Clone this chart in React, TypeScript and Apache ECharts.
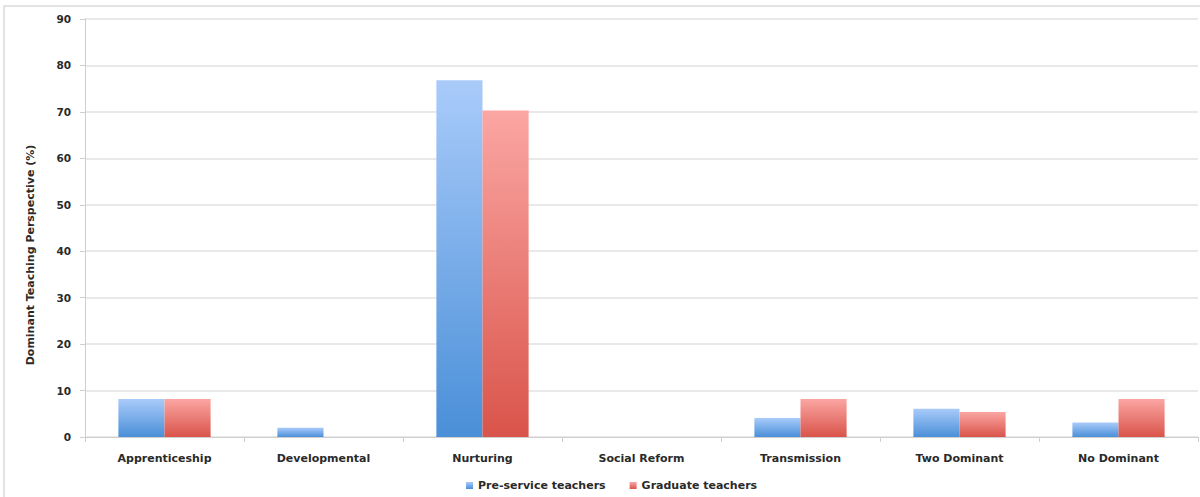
import React, { useEffect, useRef } from "react";
import * as echarts from "echarts";

const categories = [
  "Apprenticeship",
  "Developmental",
  "Nurturing",
  "Social Reform",
  "Transmission",
  "Two Dominant",
  "No Dominant",
];
const preService = [8.2, 2.0, 76.8, 0, 4.1, 6.1, 3.1];
const graduate = [8.2, 0, 70.3, 0, 8.2, 5.4, 8.2];
const seriesNames = ["Pre-service teachers", "Graduate teachers"];
const yAxisTitle = "Dominant Teaching Perspective (%)";
const yTicks = { min: 0, max: 90, interval: 10 };

const FONT = "'DejaVu Sans', 'Liberation Sans', sans-serif";
const TEXT = "#2a2a2a";

const blueFill = new echarts.graphic.LinearGradient(0, 0, 0, 1, [
  { offset: 0, color: "#a9cbfa" },
  { offset: 1, color: "#4a8fd8" },
]);
const redFill = new echarts.graphic.LinearGradient(0, 0, 0, 1, [
  { offset: 0, color: "#fba6a3" },
  { offset: 1, color: "#d9544a" },
]);

export default function App() {
  const ref = useRef<HTMLDivElement>(null);

  useEffect(() => {
    document.body.style.margin = "0";
    const chart = echarts.init(ref.current!, undefined, { renderer: "svg" });
    chart.setOption({
      animation: false,
      backgroundColor: "#ffffff",
      graphic: [
        {
          type: "rect",
          shape: { x: 4, y: 6, width: 1220, height: 520 },
          style: { fill: "none", stroke: "#dcdcdc", lineWidth: 1.5 },
          silent: true,
        },
        {
          type: "text",
          x: 30,
          y: 255,
          rotation: Math.PI / 2,
          style: {
            text: yAxisTitle,
            font: `bold 11px ${FONT}`,
            fill: TEXT,
            align: "center",
            verticalAlign: "middle",
          },
          silent: true,
        },
      ],
      grid: { left: 85, right: 2, top: 19, bottom: 60 },
      legend: {
        bottom: 1,
        left: 461,
        itemWidth: 7,
        itemHeight: 7,
        itemGap: 24,
        icon: "rect",
        textStyle: { fontFamily: FONT, fontSize: 11, fontWeight: "bold", color: TEXT },
        data: seriesNames,
      },
      xAxis: {
        type: "category",
        data: categories,
        axisLine: { lineStyle: { color: "#cfcfcf", width: 1 } },
        axisTick: { show: true, length: 5, lineStyle: { color: "#cfcfcf" } },
        axisLabel: {
          fontFamily: FONT,
          fontSize: 11,
          fontWeight: "bold",
          color: TEXT,
          margin: 16,
        },
      },
      yAxis: {
        type: "value",
        min: yTicks.min,
        max: yTicks.max,
        interval: yTicks.interval,
        axisLine: { show: true, lineStyle: { color: "#cfcfcf" } },
        axisTick: { show: true, length: 5, lineStyle: { color: "#cfcfcf" } },
        splitLine: { lineStyle: { color: "#e2e2e2", width: 1.5 } },
        axisLabel: {
          fontFamily: FONT,
          fontSize: 10.5,
          fontWeight: "bold",
          color: TEXT,
          margin: 14,
        },
      },
      series: [
        {
          name: seriesNames[0],
          type: "bar",
          data: preService,
          barGap: "0%",
          barCategoryGap: "42%",
          itemStyle: { color: blueFill },
        },
        {
          name: seriesNames[1],
          type: "bar",
          data: graduate,
          itemStyle: { color: redFill },
        },
      ],
    });
    return () => chart.dispose();
  }, []);

  return <div ref={ref} style={{ width: 1200, height: 497 }} />;
}
